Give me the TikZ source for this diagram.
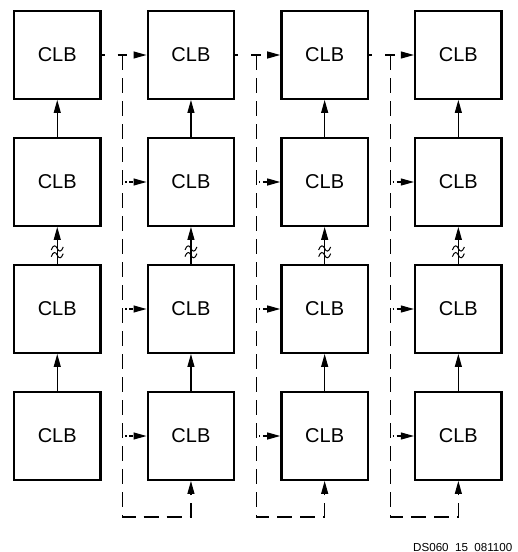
\documentclass[tikz,border=0pt]{standalone}
\usepackage{fontspec}
\setmainfont{Liberation Sans}
\usetikzlibrary{arrows.meta,calc}
\begin{document}
\begin{tikzpicture}[x=1pt,y=-1pt,
  clb/.style={draw=black,line width=2.4pt,minimum width=86.5pt,minimum height=87.5pt,inner sep=0pt,font=\fontsize{20}{24}\selectfont},
  arr/.style={line width=1.1pt,-{Triangle[length=13pt,width=7pt]}},
  topdash/.style={arr,dash pattern=on 3pt off 13pt on 9pt off 20pt},
  vdash/.style={arr,dash pattern=on 15pt off 8pt},
  dotarr/.style={arr,dash pattern=on 0pt off 2.5pt on 1.5pt off 2.5pt on 4pt off 20pt},
  squig/.style={line width=1pt}]
\clip (0,0) rectangle (518,552);
\useasboundingbox (0,0) rectangle (518,552);
\foreach \c in {1,...,4}
  \foreach \r in {1,...,4}
    \node[clb] (b\r\c) at ({57.25+133.7*(\c-1)},{55+127*(\r-1)}) {CLB};
% vertical connections
\foreach \c in {1,...,4} {
  \draw[arr] (b2\c.north) -- (b1\c.south);
  \draw[arr] (b4\c.north) -- (b3\c.south);
  \draw[arr] (b3\c.north) -- (b2\c.south);
  \coordinate (s\c a) at ($(b3\c.north)!0.24!(b2\c.south)$);
  \coordinate (s\c b) at ($(b3\c.north)!0.42!(b2\c.south)$);
  \foreach \s in {a,b}
    \draw[squig] ($(s\c\s)+(-6,1.5)$) .. controls ($(s\c\s)+(-4,-4)$) and ($(s\c\s)+(-1.5,-3.5)$) .. (s\c\s)
      .. controls ($(s\c\s)+(1.5,3.5)$) and ($(s\c\s)+(4,4)$) .. ($(s\c\s)+(6,-1.5)$);
}
% column-to-column routing
\foreach \c/\n in {1/2,2/3,3/4} {
  \coordinate (g\c) at ($(b1\c.east)+(21,0)$);
  \coordinate (q\c) at ($(g\c)+(0,462)$);
  \draw[topdash] (b1\c.east) -- (b1\n.west);
  \draw[line width=1.1pt] ($(g\c)+(-4.5,0)$) -- ($(g\c)+(4.5,0)$);
  \draw[vdash] (g\c) -- (q\c) -| (b4\n.south);
  \foreach \r in {2,3,4}
    \draw[dotarr] (g\c |- b\r\n.west) -- (b\r\n.west);
}
\node[anchor=base west,inner sep=0pt,font=\fontsize{11.6}{13}\selectfont] (lbl) at (413,551) {DS060\_15\_081100};
\end{tikzpicture}
\end{document}
